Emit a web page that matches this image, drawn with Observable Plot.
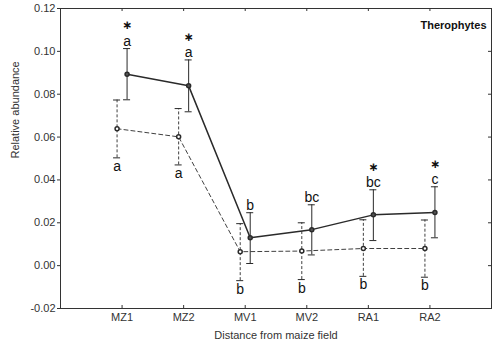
<!DOCTYPE html>
<html>
<head>
<meta charset="utf-8">
<script src="https://cdn.jsdelivr.net/npm/d3@7"></script>
<script src="https://cdn.jsdelivr.net/npm/@observablehq/plot@0.6"></script>
<style>
  html, body { margin: 0; padding: 0; background: #fff; }
</style>
</head>
<body>
<div id="chart"></div>
<script>
const categories = ["MZ1", "MZ2", "MV1", "MV2", "RA1", "RA2"];
const solidMean = [0.0893, 0.0839, 0.0130, 0.0168, 0.0237, 0.0248];
const solidHi   = [0.1013, 0.0960, 0.0247, 0.0284, 0.0354, 0.0368];
const solidLo   = [0.0774, 0.0718, 0.0010, 0.0050, 0.0117, 0.0130];
const dashedMean = [0.0639, 0.0601, 0.0065, 0.0068, 0.0080, 0.0080];
const dashedHi   = [0.0773, 0.0733, 0.0196, 0.0200, 0.0214, 0.0213];
const dashedLo   = [0.0503, 0.0470, -0.0070, -0.0065, -0.0050, -0.0054];
const solidLetters  = ["a", "a", "b", "bc", "bc", "c"];
const dashedLetters = ["a", "a", "b", "b", "b", "b"];
const stars = [true, true, false, false, true, true];
const yTicks = [-0.02, 0.00, 0.02, 0.04, 0.06, 0.08, 0.10, 0.12];
const xPositions = categories.map((c, i) => i + 1);

const solid = categories.map((c, i) => ({x: i + 1, y: solidMean[i], hi: solidHi[i], lo: solidLo[i], letter: solidLetters[i], star: stars[i]}));
const dashed = categories.map((c, i) => ({x: i + 1, y: dashedMean[i], hi: dashedHi[i], lo: dashedLo[i], letter: dashedLetters[i]}));

const cap = 0.057;
const ink = "#2a2a2a";
const off = 5;

const chart = Plot.plot({
  width: 492,
  height: 352,
  marginLeft: 60,
  marginRight: 1,
  marginTop: 8,
  marginBottom: 44,
  style: {fontFamily: "'Liberation Sans', Arial, sans-serif", fontSize: "11px", color: "#333", background: "white"},
  x: {domain: [0, 7]},
  y: {domain: [-0.02, 0.12]},
  marks: [
    Plot.frame({stroke: "#333"}),
    Plot.axisY(yTicks, {tickSize: 3, tickPadding: 2, tickFormat: d => d.toFixed(2), label: null, stroke: "#333"}),
    Plot.axisX(xPositions, {tickSize: 0, tickPadding: 5, tickFormat: i => categories[i - 1], label: null}),
    Plot.tickX(xPositions, {x: d => d, insetTop: 297, stroke: "#333"}),
    Plot.tickX(xPositions, {x: d => d, insetBottom: 297, stroke: "#333"}),
    Plot.tickY(yTicks, {y: d => d, insetLeft: 428, stroke: "#333"}),
    // dashed series
    Plot.ruleX(dashed, {x: "x", y1: "lo", y2: "hi", dx: -off, stroke: ink, strokeWidth: 0.9, strokeDasharray: "3,2"}),
    Plot.ruleY(dashed, {x1: d => d.x - cap, x2: d => d.x + cap, y: "hi", dx: -off, stroke: ink}),
    Plot.ruleY(dashed, {x1: d => d.x - cap, x2: d => d.x + cap, y: "lo", dx: -off, stroke: ink}),
    Plot.line(dashed, {x: "x", y: "y", dx: -off, stroke: ink, strokeWidth: 0.9, strokeDasharray: "4,3"}),
    Plot.dot(dashed, {x: "x", y: "y", dx: -off, r: 2, stroke: ink, fill: "white"}),
    Plot.text(dashed, {x: "x", y: "lo", dx: -off, dy: 3, text: "letter", lineAnchor: "top", fontSize: 14, fill: "#111"}),
    // solid series
    Plot.ruleX(solid, {x: "x", y1: "lo", y2: "hi", dx: off, stroke: ink}),
    Plot.ruleY(solid, {x1: d => d.x - cap, x2: d => d.x + cap, y: "hi", dx: off, stroke: ink}),
    Plot.ruleY(solid, {x1: d => d.x - cap, x2: d => d.x + cap, y: "lo", dx: off, stroke: ink}),
    Plot.line(solid, {x: "x", y: "y", dx: off, stroke: ink}),
    Plot.dot(solid, {x: "x", y: "y", dx: off, r: 2, stroke: ink, fill: "#555"}),
    Plot.text(solid, {x: "x", y: "hi", dx: off, dy: -3, text: "letter", lineAnchor: "bottom", fontSize: 14, fill: "#111"}),
    Plot.text(solid.filter(d => d.star), {x: "x", y: "hi", dx: off, dy: -23, text: () => "\u2217", lineAnchor: "middle", fontSize: 12, fontWeight: "bold", fontFamily: "'DejaVu Sans', sans-serif", fill: "#111"}),
    // labels
    Plot.text(["Therophytes"], {frameAnchor: "top-right", dx: -5, dy: 13, text: d => d, textAnchor: "end", fontWeight: "bold", fontSize: 11, fill: "#111"}),
    Plot.text(["Relative abundance"], {frameAnchor: "left", dx: -45, rotate: -90, text: d => d, fontSize: 11, fill: "#333"}),
    Plot.text(["Distance from maize field"], {frameAnchor: "bottom", dy: 30, text: d => d, fontSize: 11, fill: "#333"})
  ]
});
document.getElementById("chart").appendChild(chart);
</script>
</body>
</html>
